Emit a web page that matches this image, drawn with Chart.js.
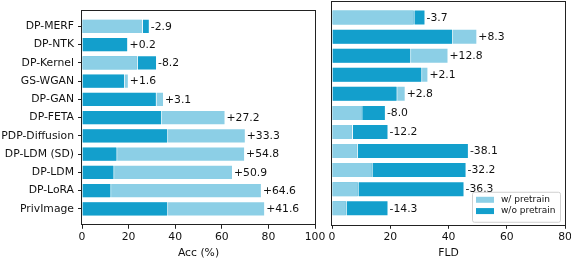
<!DOCTYPE html>
<html>
<head>
<meta charset="utf-8">
<script src="https://cdn.jsdelivr.net/npm/chart.js@4.4.1/dist/chart.umd.min.js"></script>
<style>
  html, body { margin: 0; padding: 0; background: #fff; }
  body { width: 571px; height: 259px; overflow: hidden; position: relative; }
  #accChart { position: absolute; left: 0; top: 0; }
  #fldChart { position: absolute; left: 320px; top: 0; }
</style>
</head>
<body>
<canvas id="accChart" width="330" height="259"></canvas>
<canvas id="fldChart" width="260" height="259"></canvas>
<script>
// methods, top to bottom
const methods = ['DP-MERF', 'DP-NTK', 'DP-Kernel', 'GS-WGAN', 'DP-GAN', 'DP-FETA',
                 'PDP-Diffusion', 'DP-LDM (SD)', 'DP-LDM', 'DP-LoRA', 'PrivImage'];
const seriesNames = ['w/ pretrain', 'w/o pretrain'];

// Acc (%)
const accWith    = [26.2, 20.0, 24.0, 20.1, 35.2, 61.6, 70.3, 70.0, 64.8, 77.2, 78.6];
const accWithout = [29.1, 19.8, 32.2, 18.5, 32.1, 34.4, 37.0, 15.2, 13.9, 12.6, 37.0];
const accDelta   = [-2.9, 0.2, -8.2, 1.6, 3.1, 27.2, 33.3, 54.8, 50.9, 64.6, 41.6];

// FLD
const fldWith    = [28.4, 49.9, 40.0, 33.1, 25.3, 10.5, 7.2, 8.9, 14.0, 9.2, 5.1];
const fldWithout = [32.1, 41.6, 27.2, 31.0, 22.5, 18.5, 19.4, 47.0, 46.2, 45.5, 19.4];
const fldDelta   = [-3.7, 8.3, 12.8, 2.1, 2.8, -8.0, -12.2, -38.1, -32.2, -36.3, -14.3];

const accTicks = [0, 20, 40, 60, 80, 100];
const fldTicks = [0, 20, 40, 60, 80];

const LIGHT = '#8ccfe6';
const DARK = '#139fcc';
const INK = '#111';
const FONT = 'DejaVu Sans';
const SIZE = 10.8;

Chart.defaults.font.family = FONT;
Chart.defaults.font.size = SIZE;
Chart.defaults.color = INK;

const fmt = d => (d > 0 ? '+' : '') + d.toFixed(1);

// longer bar behind, shorter one in front (like the original)
function buildDatasets(withVals, withoutVals) {
  const common = { grouped: false, barPercentage: 0.84, categoryPercentage: 1,
                   borderColor: '#fff', borderWidth: 1 };
  return [
    Object.assign({}, common, {
      label: 'front', order: 0,
      data: methods.map((m, i) => ({ x: Math.min(withVals[i], withoutVals[i]), y: i })),
      backgroundColor: methods.map((m, i) => withVals[i] <= withoutVals[i] ? LIGHT : DARK)
    }),
    Object.assign({}, common, {
      label: 'back', order: 1,
      data: methods.map((m, i) => ({ x: Math.max(withVals[i], withoutVals[i]), y: i })),
      backgroundColor: methods.map((m, i) => withVals[i] <= withoutVals[i] ? DARK : LIGHT)
    })
  ];
}

const framePlugin = {
  id: 'frame',
  afterDraw(chart) {
    const { ctx, chartArea: a } = chart;
    ctx.save();
    ctx.strokeStyle = '#222';
    ctx.lineWidth = 1;
    ctx.strokeRect(Math.round(a.left) - 0.5, Math.round(a.top) + 0.5,
                   Math.round(a.right - a.left) + 1, Math.round(a.bottom - a.top));
    ctx.restore();
  }
};

const deltaPlugin = {
  id: 'deltas',
  afterDatasetsDraw(chart, args, opts) {
    const { ctx } = chart;
    const xs = chart.scales.x, ys = chart.scales.y;
    ctx.save();
    ctx.font = SIZE + 'px "' + FONT + '"';
    ctx.fillStyle = INK;
    ctx.textAlign = 'left';
    ctx.textBaseline = 'middle';
    opts.values.forEach((d, i) => {
      const end = Math.max(opts.a[i], opts.b[i]);
      ctx.fillText(fmt(d), xs.getPixelForValue(end) + 1, ys.getPixelForValue(i) + 0.5);
    });
    ctx.restore();
  }
};

const legendPlugin = {
  id: 'pretrainLegend',
  afterDraw(chart, args, opts) {
    if (!opts.show) return;
    const { ctx, chartArea: a } = chart;
    const w = 88, h = 30;
    const x = a.right - 5 - w, y = a.bottom - 3 - h;
    ctx.save();
    ctx.beginPath();
    ctx.roundRect(x + 0.5, y + 0.5, w, h, 2);
    ctx.fillStyle = 'rgba(255,255,255,0.8)';
    ctx.fill();
    ctx.strokeStyle = '#d0d0d0';
    ctx.lineWidth = 1;
    ctx.stroke();
    ctx.font = '9px "' + FONT + '"';
    ctx.textAlign = 'left';
    ctx.textBaseline = 'middle';
    [LIGHT, DARK].forEach((c, i) => {
      const yy = y + 5 + i * 11.3;
      ctx.fillStyle = c;
      ctx.fillRect(x + 4, yy, 18, 6);
      ctx.fillStyle = INK;
      ctx.fillText(seriesNames[i], x + 29, yy + 3);
    });
    ctx.restore();
  }
};

function makeChart(id, withVals, withoutVals, deltas, ticks, title, isLeft) {
  return new Chart(document.getElementById(id), {
    type: 'bar',
    data: { datasets: buildDatasets(withVals, withoutVals) },
    options: {
      indexAxis: 'y',
      responsive: false,
      animation: false,
      devicePixelRatio: 1,
      layout: { padding: isLeft ? { top: 1, right: 15, bottom: 0, left: 0 }
                                : { top: 1, right: 15, bottom: 0, left: 12 } },
      plugins: {
        legend: { display: false },
        tooltip: { enabled: false },
        deltas: { values: deltas, a: withVals, b: withoutVals },
        pretrainLegend: { show: !isLeft }
      },
      scales: {
        x: {
          type: 'linear',
          min: ticks[0],
          max: ticks[ticks.length - 1],
          afterBuildTicks: s => { s.ticks = ticks.map(v => ({ value: v })); },
          ticks: { padding: 2, color: INK, maxRotation: 0, font: { lineHeight: 1.15 } },
          grid: { drawOnChartArea: false, tickLength: 4, tickColor: '#222', tickWidth: 1 },
          border: { display: false },
          title: { display: true, text: title, color: INK, font: { lineHeight: 1 },
                   padding: { top: 3, bottom: 0 } }
        },
        y: {
          type: 'linear',
          offset: false,
          reverse: true,
          min: -0.87,
          max: methods.length - 1 + 0.87,
          display: isLeft,
          afterBuildTicks: s => { s.ticks = methods.map((m, i) => ({ value: i })); },
          afterFit: s => { if (isLeft) s.width = 82; },
          ticks: { padding: 4, color: INK, callback: v => methods[v] },
          grid: { offset: false, drawOnChartArea: false, tickLength: 4, tickColor: '#222', tickWidth: 1 },
          border: { display: false }
        }
      }
    },
    plugins: [framePlugin, deltaPlugin, legendPlugin]
  });
}

makeChart('accChart', accWith, accWithout, accDelta, accTicks, 'Acc (%)', true);
makeChart('fldChart', fldWith, fldWithout, fldDelta, fldTicks, 'FLD', false);
</script>
</body>
</html>
